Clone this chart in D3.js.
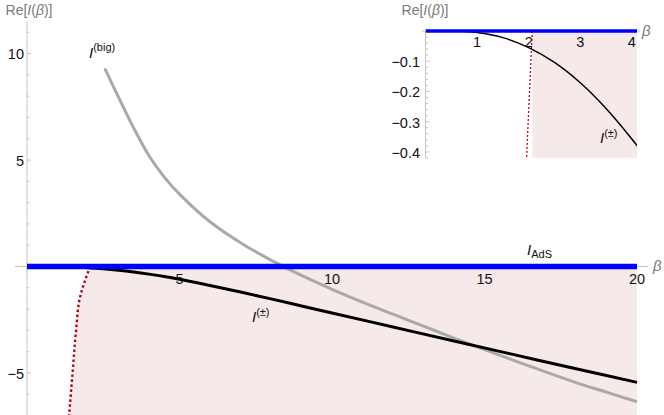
<!DOCTYPE html>
<html>
<head>
<meta charset="utf-8">
<script src="https://cdn.jsdelivr.net/npm/d3@7"></script>
<style>
body { margin: 0; background: #fff; }
text { font-family: "Liberation Sans", Arial, sans-serif; }
</style>
</head>
<body>
<div id="chart"></div>
<script>
// I^(±) branch
var pmBeta = [0.5, 1, 1.5, 2, 2.5, 3, 3.5, 4, 4.5, 5, 6, 7, 8, 9, 10, 12, 14, 16, 18, 20];
var pmValue = [0, -0.005, -0.022, -0.055, -0.104, -0.171, -0.256, -0.357, -0.47, -0.6, -0.89, -1.2, -1.52, -1.85, -2.18, -2.84, -3.5, -4.15, -4.8, -5.44];

// I^(big) branch
var bigBeta = [2.55, 3, 3.5, 4, 4.5, 5, 6, 7, 8, 9, 10, 11, 12, 13, 14, 15, 16, 17, 18, 19, 20];
var bigValue = [9.3, 7.95, 6.5, 5.2, 4.2, 3.4, 2.1, 1.12, 0.3, -0.42, -1.07, -1.67, -2.24, -2.8, -3.36, -3.9, -4.43, -4.95, -5.45, -5.9, -6.35];

// edge of the shaded region (red dotted)
var edgeBeta = [2.07, 1.94, 1.74, 1.61, 1.5, 1.38];
var edgeValue = [0, -0.5, -1.43, -2.98, -4.86, -7];

// I_AdS
var adsBeta = [0, 20];
var adsValue = [0, 0];

var mainXTicks = [5, 10, 15, 20];
var mainYTicks = [10, 5, -5];
var mainYLabels = ["10", "5", "\u22125"];
var insetXTicks = [1, 2, 3, 4];
var insetYTicks = [-0.1, -0.2, -0.3, -0.4];
var insetYLabels = ["\u22120.1", "\u22120.2", "\u22120.3", "\u22120.4"];

var width = 664, height = 415;
var axisColor = "#c4c4c4", labelGray = "#7a7a7a", pink = "#f6e9ea";

var svg = d3.select("#chart").append("svg")
	.attr("width", width)
	.attr("height", height);

var zip = function(xs, ys){ return xs.map(function(x, i){ return [x, ys[i]]; }); };

// rich text: parts = [[text, italic, shift, size]]
function rich(g, x, y, parts, anchor, color){
	var t = g.append("text")
		.attr("x", x).attr("y", y)
		.attr("text-anchor", anchor || "start")
		.attr("fill", color || "#111");
	var prev = 0;
	parts.forEach(function(p){
		var shift = p[2] || 0;
		t.append("tspan")
			.attr("dy", shift - prev)
			.style("font-style", p[1] ? "italic" : "normal")
			.style("font-size", (p[3] || 14) + "px")
			.text(p[0]);
		prev = shift;
	});
	return t;
}

/* ---------- main plot ---------- */
var x = d3.scaleLinear().domain([0, 20]).range([27, 637]);
var y = d3.scaleLinear().domain([-7, 11.5]).range([415.6, 21.6]);

var line = d3.line().x(function(d){ return x(d[0]); }).y(function(d){ return y(d[1]); }).curve(d3.curveCatmullRom.alpha(0.5));
var edgeLine = d3.line().x(function(d){ return x(d[0]); }).y(function(d){ return y(d[1]); }).curve(d3.curveMonotoneY);

var main = svg.append("g");

// shaded region right of the edge curve
main.append("path")
	.attr("d", edgeLine(zip(edgeBeta, edgeValue)) + "L" + x(20) + "," + y(-7) + "L" + x(20) + "," + y(0) + "Z")
	.attr("fill", pink);

// axes
main.append("line")
	.attr("x1", x(0)).attr("x2", x(0))
	.attr("y1", y(11.5)).attr("y2", height)
	.attr("stroke", axisColor);
main.append("line")
	.attr("x1", x(0) - 12).attr("x2", 648)
	.attr("y1", y(0)).attr("y2", y(0))
	.attr("stroke", axisColor);

main.append("g").selectAll("line")
	.data(d3.range(-7, 12))
	.enter().append("line")
		.attr("x1", x(0)).attr("x2", function(d){ return x(0) + (d % 5 === 0 ? 4 : 2.5); })
		.attr("y1", function(d){ return y(d); }).attr("y2", function(d){ return y(d); })
		.attr("stroke", axisColor);

main.append("g").selectAll("text")
	.data(mainYTicks)
	.enter().append("text")
		.attr("x", 24)
		.attr("y", function(d){ return y(d) + 5.5; })
		.attr("text-anchor", "end")
		.attr("fill", "#111")
		.style("font-size", "14.5px")
		.text(function(d, i){ return mainYLabels[i]; });

main.append("g").selectAll("text")
	.data(mainXTicks)
	.enter().append("text")
		.attr("x", function(d){ return x(d); })
		.attr("y", 283.5)
		.attr("text-anchor", "middle")
		.attr("fill", "#111")
		.style("font-size", "14.5px")
		.text(function(d){ return d; });

// curves
main.append("path")
	.attr("d", line(zip(bigBeta, bigValue)))
	.attr("fill", "none")
	.attr("stroke", "#a9a9a9")
	.attr("stroke-width", 3);

main.append("path")
	.attr("d", line(zip(pmBeta, pmValue)))
	.attr("fill", "none")
	.attr("stroke", "#000")
	.attr("stroke-width", 3);

main.append("path")
	.attr("d", edgeLine(zip(edgeBeta, edgeValue)))
	.attr("fill", "none")
	.attr("stroke", "#b3000c")
	.attr("stroke-width", 2.4)
	.attr("stroke-dasharray", "2.4,2.6");

main.append("path")
	.attr("d", line(zip(adsBeta, adsValue)))
	.attr("fill", "none")
	.attr("stroke", "#0000ff")
	.attr("stroke-width", 5.5);

// labels
rich(main, 29, 15, [["Re["], ["I", true], ["("], ["\u03b2", true], [")]"]], "middle", labelGray);
rich(main, 653, 271, [["\u03b2", true, 0, 15]], "start", labelGray);
rich(main, 89, 58, [["I", true, 0, 15], ["(big)", false, -7, 11]]);
rich(main, 252, 322, [["I", true, 0, 15], ["(\u00b1)", false, -6, 11]]);
rich(main, 527, 255, [["I", true, 0, 15], ["AdS", false, 3, 11]]);

/* ---------- inset ---------- */
var ix = d3.scaleLinear().domain([0, 4.1]).range([425.5, 637]);
var iy = d3.scaleLinear().domain([-0.42, 0]).range([158, 31]);

var iline = d3.line().x(function(d){ return ix(d[0]); }).y(function(d){ return iy(d[1]); }).curve(d3.curveCatmullRom.alpha(0.5));
var iedge = d3.line().x(function(d){ return ix(d[0]); }).y(function(d){ return iy(d[1]); }).curve(d3.curveMonotoneY);

var inset = svg.append("g");

svg.append("clipPath").attr("id", "insetClip")
	.append("rect")
		.attr("x", ix(0)).attr("y", iy(0) - 4)
		.attr("width", ix(4.1) - ix(0)).attr("height", iy(-0.42) - iy(0) + 4);

inset.append("rect")
	.attr("x", ix(edgeBeta[0])).attr("y", iy(0))
	.attr("width", ix(4.1) - ix(edgeBeta[0])).attr("height", iy(-0.42) - iy(0))
	.attr("fill", pink);

inset.append("line")
	.attr("x1", ix(0)).attr("x2", ix(0))
	.attr("y1", iy(0)).attr("y2", iy(-0.42))
	.attr("stroke", axisColor);
inset.append("line")
	.attr("x1", ix(0) - 4).attr("x2", 640)
	.attr("y1", iy(0)).attr("y2", iy(0))
	.attr("stroke", axisColor);

inset.append("g").selectAll("line")
	.data(d3.range(1, 22))
	.enter().append("line")
		.attr("x1", ix(0)).attr("x2", function(d){ return ix(0) + (d % 5 === 0 ? 4 : 2.5); })
		.attr("y1", function(d){ return iy(-d * 0.02); }).attr("y2", function(d){ return iy(-d * 0.02); })
		.attr("stroke", axisColor);

inset.append("g").selectAll("text")
	.data(insetYTicks)
	.enter().append("text")
		.attr("x", 420)
		.attr("y", function(d){ return iy(d) + 6; })
		.attr("text-anchor", "end")
		.attr("fill", "#111")
		.style("font-size", "14.5px")
		.text(function(d, i){ return insetYLabels[i]; });

inset.append("g").selectAll("text")
	.data(insetXTicks)
	.enter().append("text")
		.attr("x", function(d){ return ix(d); })
		.attr("y", 47)
		.attr("text-anchor", "middle")
		.attr("fill", "#111")
		.style("font-size", "14.5px")
		.text(function(d){ return d; });

var curves = inset.append("g").attr("clip-path", "url(#insetClip)");

curves.append("path")
	.attr("d", iedge(zip(edgeBeta, edgeValue)))
	.attr("fill", "none")
	.attr("stroke", "#c8000f")
	.attr("stroke-width", 1.3)
	.attr("stroke-dasharray", "2,2");

curves.append("path")
	.attr("d", iline(zip(pmBeta, pmValue)))
	.attr("fill", "none")
	.attr("stroke", "#000")
	.attr("stroke-width", 1.5);

curves.append("path")
	.attr("d", iline([[0, 0], [4.1, 0]]))
	.attr("fill", "none")
	.attr("stroke", "#0000ff")
	.attr("stroke-width", 3.3);

rich(inset, 425, 15, [["Re["], ["I", true], ["("], ["\u03b2", true], [")]"]], "middle", labelGray);
rich(inset, 642, 36, [["\u03b2", true, 0, 15]], "start", labelGray);
rich(inset, 600, 143, [["I", true, 0, 15], ["(\u00b1)", false, -6, 11]]);
</script>
</body>
</html>
